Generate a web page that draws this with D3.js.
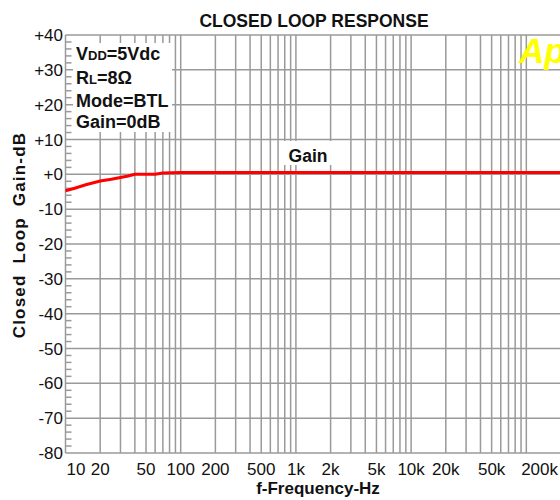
<!DOCTYPE html>
<html lang="en">
<head>
    <meta charset="UTF-8">
    <title>Closed Loop Response</title>
    <script src="https://cdn.jsdelivr.net/npm/d3@7"></script>
    <style>
        body { margin: 0; background: #fff; }
        text { font-family: "Liberation Sans", Arial, sans-serif; }
    </style>
</head>
<body>
    <div id="chart"></div>
    <script>
        // data
        const freqs = [10, 12, 15, 20, 25, 30, 35, 40, 50, 60, 70, 100, 1000, 10000, 100000, 200000];
        const gains = [-4.7, -4.0, -3.0, -1.9, -1.4, -0.9, -0.5, 0.0, 0.0, 0.0, 0.4, 0.5, 0.5, 0.5, 0.5, 0.5];
        const yTicks = [40, 30, 20, 10, 0, -10, -20, -30, -40, -50, -60, -70, -80];
        const yTickLabels = ["+40", "+30", "+20", "+10", "+0", "-10", "-20", "-30", "-40", "-50", "-60", "-70", "-80"];
        const xTicks = [10, 20, 50, 100, 200, 500, 1000, 2000, 5000, 10000, 20000, 50000, 200000];
        const xTickLabels = ["10", "20", "50", "100", "200", "500", "1k", "2k", "5k", "10k", "20k", "50k", "200k"];

        const width = 560, height = 500;
        const svg = d3.select("#chart").append("svg").attr("width", width).attr("height", height);

        const x = d3.scaleLog().domain([10, 200000]).range([65.5, 561]);
        const y = d3.scaleLinear().domain([-80, 40]).range([453, 35]);
        const gridColor = "#9a9a9a";

        // vertical grid (1..9 per decade)
        svg.append("g").selectAll("line").data(x.ticks()).enter().append("line")
            .attr("x1", d => x(d)).attr("x2", d => x(d))
            .attr("y1", y(40)).attr("y2", y(-80))
            .attr("stroke", gridColor).attr("stroke-width", 1.5);

        // horizontal grid
        svg.append("g").selectAll("line").data(yTicks).enter().append("line")
            .attr("x1", x(10)).attr("x2", width)
            .attr("y1", d => y(d)).attr("y2", d => y(d))
            .attr("stroke", gridColor).attr("stroke-width", 1.5);

        // minor ticks on the left edge, every 2 dB
        svg.append("g").selectAll("line").data(y.ticks(60).filter(d => d % 10 !== 0)).enter().append("line")
            .attr("x1", x(10)).attr("x2", x(10) + 6)
            .attr("y1", d => y(d)).attr("y2", d => y(d))
            .attr("stroke", gridColor).attr("stroke-width", 1.5);

        // legend box covering the grid
        svg.append("rect").attr("x", 73).attr("y", 43).attr("width", 99).attr("height", 89).attr("fill", "#fff");
        const legend = svg.append("text").attr("font-weight", "bold").attr("font-size", 18).attr("fill", "#111");
        const l1 = legend.append("tspan").attr("x", 76).attr("y", 60);
        l1.append("tspan").text("V");
        l1.append("tspan").attr("font-size", 13).text("DD");
        l1.append("tspan").text("=5Vdc");
        const l2 = legend.append("tspan").attr("x", 76).attr("y", 84);
        l2.append("tspan").text("R");
        l2.append("tspan").attr("font-size", 13).text("L");
        l2.append("tspan").text("=8Ω");
        legend.append("tspan").attr("x", 76).attr("y", 107).text("Mode=BTL");
        legend.append("tspan").attr("x", 76).attr("y", 128).text("Gain=0dB");

        // "Gain" label
        svg.append("rect").attr("x", 284).attr("y", 141).attr("width", 48).attr("height", 24).attr("fill", "#fff");
        svg.append("text").attr("x", 308).attr("y", 162).attr("text-anchor", "middle")
            .attr("font-weight", "bold").attr("font-size", 17.5).attr("fill", "#111").text("Gain");

        // curve
        const line = d3.line().x((d, i) => x(freqs[i])).y(d => y(d));
        svg.append("path").datum(gains).attr("d", line)
            .attr("fill", "none").attr("stroke", "#ff0000").attr("stroke-width", 3);

        // y tick labels
        svg.append("g").selectAll("text").data(yTicks).enter().append("text")
            .attr("x", 63).attr("y", d => y(d)).attr("dy", "0.36em")
            .attr("text-anchor", "end").attr("font-size", 17).attr("fill", "#111")
            .text((d, i) => yTickLabels[i]);

        // x tick labels
        svg.append("g").selectAll("text").data(xTicks).enter().append("text")
            .attr("x", d => x(d)).attr("y", 475)
            .attr("text-anchor", (d, i) => i === 0 ? "start" : (i === xTicks.length - 1 ? "end" : "middle"))
            .attr("dx", (d, i) => i === 0 ? 1 : (i === xTicks.length - 1 ? -3 : 0))
            .attr("font-size", 17).attr("fill", "#111")
            .text((d, i) => xTickLabels[i]);

        // titles
        svg.append("text").attr("x", 314).attr("y", 27).attr("text-anchor", "middle")
            .attr("font-weight", "bold").attr("font-size", 17.5).attr("fill", "#111").text("CLOSED LOOP RESPONSE");
        svg.append("text").attr("x", 318).attr("y", 494).attr("text-anchor", "middle")
            .attr("font-weight", "bold").attr("font-size", 17).attr("fill", "#111").text("f-Frequency-Hz");
        svg.append("text").attr("transform", "translate(25,235) rotate(-90)").attr("text-anchor", "middle")
            .attr("font-weight", "bold").attr("font-size", 17).attr("letter-spacing", 1.2).attr("word-spacing", 5)
            .attr("fill", "#111").text("Closed Loop Gain-dB");

        // logo (cut at the right edge, as in the source image)
        svg.append("text").attr("x", 519).attr("y", 63)
            .attr("font-weight", "bold").attr("font-style", "italic").attr("font-size", 35)
            .attr("fill", "#ffff00").text("Ap");
    </script>
</body>
</html>
